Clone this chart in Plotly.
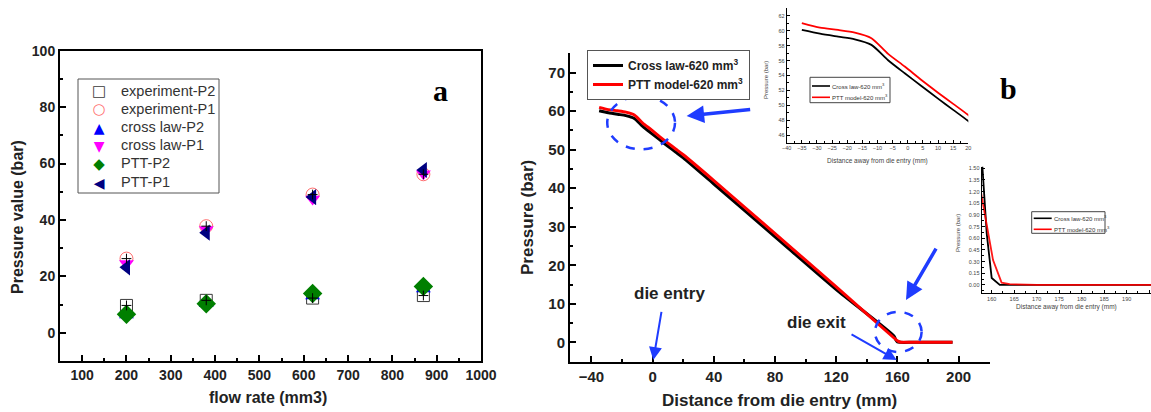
import plotly.graph_objects as go

W, H = 1151, 412

# ---------------- Panel (a): pressure vs flow rate ----------------
flow_rate = [200, 380, 620, 870]
exp_p2 = [9.7, 11.5, 12.3, 13.2]
exp_p1 = [26.3, 37.8, 49.0, 56.2]
cross_p2 = [6.3, 10.3, 13.0, 15.5]
cross_p1 = [24.6, 36.6, 47.4, 56.4]
ptt_p2 = [6.6, 10.3, 13.9, 16.4]
ptt_p1 = [23.2, 35.5, 48.1, 57.7]

# ---------------- Panel (b): pressure along the die, 620 mm3 ----------------
dist_cross = [-35, -29, -23, -17.5, -12, -6.5, -1, 4.5, 10, 15, 20, 40, 80, 120,
              157.9, 158.9, 160.0, 161.8, 170, 180, 196]
p_cross = [60.1, 59.6, 59.2, 58.85, 58.1, 56.05, 54.3, 52.6, 50.9, 49.4, 47.9, 41.1,
           27.4, 13.7, 1.55, 0.66, 0.09, 0.0, 0.0, 0.0, 0.0]
dist_ptt = [-35, -29, -23, -17.5, -12, -6.5, -1, 4.5, 10, 15, 20, 40, 80, 120,
            157.8, 160.3, 162.2, 164, 170, 180, 196]
p_ptt = [61.0, 60.4, 60.1, 59.75, 59.0, 56.9, 55.2, 53.4, 51.7, 50.2, 48.7, 42.0,
         28.2, 14.4, 1.13, 0.32, 0.03, 0.01, 0.0, 0.0, 0.0]

cross_name = "Cross law-620 mm<sup>3</sup>"
ptt_name = "PTT model-620 mm<sup>3</sup>"

FONT = "Arial, Liberation Sans, sans-serif"
BLUE_ANN = "#1f3cff"


def px(x):
    return x / W


def py(y):
    return 1 - y / H


fig = go.Figure()

# Panel (a) scatter series: (name, values, marker, legend glyph, glyph size)
series_a = [
    ("experiment-P2", exp_p2, dict(symbol="square-open", size=12, color="#3a3a3a",
                                   line=dict(width=1, color="#3a3a3a")), "□", 15),
    ("experiment-P1", exp_p1, dict(symbol="circle-open", size=13, color="#ff6f6f",
                                   line=dict(width=1, color="#ff6f6f")), "○", 15),
    ("cross law-P2", cross_p2, dict(symbol="triangle-up", size=13, color="#0000ff"), "▲", 14),
    ("cross law-P1", cross_p1, dict(symbol="triangle-down", size=13, color="#ff00ff"), "▼", 14),
    ("PTT-P2", ptt_p2, dict(symbol="diamond", size=15, color="#007f00"), "◆", 15),
    ("PTT-P1", ptt_p1, dict(symbol="triangle-left", size=14, color="#000080"), "◀", 14),
]
for name, vals, marker, _, _ in series_a:
    fig.add_trace(go.Scatter(x=flow_rate, y=vals, mode="markers", name=name, showlegend=False,
                             marker=marker, xaxis="x", yaxis="y"))

# small measurement crosses at the experimental points
for vals in (exp_p2, exp_p1):
    fig.add_trace(go.Scatter(x=flow_rate, y=vals, mode="markers", showlegend=False,
                             marker=dict(symbol="cross-thin", size=7, line=dict(width=1, color="black")),
                             xaxis="x", yaxis="y", hoverinfo="skip"))

SMOOTH = 0.7

# Panel (b) main curves
fig.add_trace(go.Scatter(x=dist_cross, y=p_cross, mode="lines", name=cross_name,
                         line=dict(color="black", width=3, shape="spline", smoothing=SMOOTH),
                         xaxis="x2", yaxis="y2", legend="legend2"))
fig.add_trace(go.Scatter(x=dist_ptt, y=p_ptt, mode="lines", name=ptt_name,
                         line=dict(color="#ff0000", width=3, shape="spline", smoothing=SMOOTH),
                         xaxis="x2", yaxis="y2", legend="legend2"))

# Inset 1: die entry region
fig.add_trace(go.Scatter(x=dist_cross, y=p_cross, mode="lines", showlegend=False,
                         line=dict(color="black", width=1.8, shape="spline", smoothing=SMOOTH),
                         xaxis="x3", yaxis="y3"))
fig.add_trace(go.Scatter(x=dist_ptt, y=p_ptt, mode="lines", showlegend=False,
                         line=dict(color="#ff0000", width=1.8, shape="spline", smoothing=SMOOTH),
                         xaxis="x3", yaxis="y3"))

# Inset 2: die exit region
fig.add_trace(go.Scatter(x=dist_cross, y=p_cross, mode="lines", showlegend=False,
                         line=dict(color="black", width=1.8), xaxis="x4", yaxis="y4"))
fig.add_trace(go.Scatter(x=dist_ptt, y=p_ptt, mode="lines", showlegend=False,
                         line=dict(color="#ff0000", width=1.8), xaxis="x4", yaxis="y4", opacity=0.9))


def axis_style(size, bold=True, lw=2, tl=6, mirror=False, minor_dtick=None, color="#222"):
    d = dict(showgrid=False, zeroline=False, showline=True, linecolor="black", linewidth=lw,
             ticks="inside", ticklen=tl, tickwidth=lw, tickcolor="black", mirror=mirror,
             automargin=False,
             tickfont=dict(family=FONT, size=size, color=color,
                           weight="bold" if bold else "normal"))
    if minor_dtick is not None:
        d["minor"] = dict(ticks="inside", ticklen=max(2, tl // 2), tickwidth=lw,
                          tickcolor="black", dtick=minor_dtick, showgrid=False)
    return d


layout = dict(
    width=W, height=H, margin=dict(l=0, r=0, t=0, b=0, autoexpand=False),
    paper_bgcolor="white", plot_bgcolor="white",
    xaxis=dict(domain=[px(60), px(481)], range=[50, 1000], dtick=100, anchor="y",
               **axis_style(14, mirror=True, minor_dtick=50)),
    yaxis=dict(domain=[py(361), py(50.7)], range=[-10, 100], dtick=20, anchor="x",
               **axis_style(14, mirror=True, minor_dtick=10)),
    xaxis2=dict(domain=[px(570), px(990)], range=[-54.05, 220.5], tick0=-40, dtick=40, anchor="y2",
                **axis_style(15, minor_dtick=20)),
    yaxis2=dict(domain=[py(362), py(53)], range=[-5.1, 75.1], dtick=10, anchor="x2",
                **axis_style(15, minor_dtick=5)),
    xaxis3=dict(domain=[px(786.7), px(968.3)], range=[-40, 20], dtick=5, anchor="y3",
                **axis_style(5.5, bold=False, lw=1.2, tl=3, minor_dtick=2.5, color="#444")),
    yaxis3=dict(domain=[py(142.7), py(8.3)], range=[45, 63], dtick=2, anchor="x3",
                **axis_style(5.5, bold=False, lw=1.2, tl=3, minor_dtick=1, color="#444")),
    xaxis4=dict(domain=[px(981.7), 1.0], range=[157.78, 195.4], tick0=160, dtick=5, anchor="y4",
                **axis_style(5.5, bold=False, lw=1.2, tl=3, minor_dtick=2.5, color="#444")),
    yaxis4=dict(domain=[py(293.3), py(166.7)], range=[-0.107, 1.52], dtick=0.15, tickformat=".2f",
                anchor="x4", **axis_style(5.5, bold=False, lw=1.2, tl=3, minor_dtick=0.075, color="#444")),
    legend2=dict(x=px(587), y=py(50), xanchor="left", yanchor="top", bgcolor="white",
                 bordercolor="#555", borderwidth=1,
                 font=dict(family=FONT, size=12, color="#222", weight="bold")),
    showlegend=True,
)
fig.update_layout(**layout)

annotations = []
shapes = []


def text_ann(text, x, y, size, angle=0, bold=False, color="#222", family=FONT, xanchor="center"):
    return dict(text=text, x=px(x), y=py(y), xref="paper", yref="paper", textangle=angle,
                xanchor=xanchor, yanchor="middle", showarrow=False, borderpad=0,
                font=dict(family=family, size=size, color=color, weight="bold" if bold else "normal"))


# Axis titles
annotations += [
    text_ann("Pressure value (bar)", 17, 217, 16, angle=-90, bold=True),
    text_ann("flow rate (mm3)", 268, 397, 16, bold=True),
    text_ann("Pressure (bar)", 527, 218, 17, angle=-90, bold=True),
    text_ann("Distance from die entry (mm)", 779, 400, 17, bold=True),
    text_ann("Pressure (bar)", 766, 80, 6, angle=-90, color="#444"),
    text_ann("Distance away from die entry (mm)", 877, 161, 6.5, color="#444"),
    text_ann("Pressure (bar)", 958, 233, 6, angle=-90, color="#444"),
    text_ann("Distance away from die entry (mm)", 1066, 307, 6.5, color="#444"),
    text_ann("<b>a</b>", 440, 90, 30, color="black", family="Liberation Serif, Times New Roman, serif"),
    text_ann("<b>b</b>", 1008, 88, 30, color="black", family="Liberation Serif, Times New Roman, serif"),
]

# die labels in data coordinates of panel (b)
annotations += [
    dict(text="die entry", x=10.8, y=12.7, xref="x2", yref="y2", showarrow=False,
         xanchor="center", yanchor="middle",
         font=dict(family=FONT, size=17, color="#222", weight="bold")),
    dict(text="die exit", x=107.2, y=5.1, xref="x2", yref="y2", showarrow=False,
         xanchor="center", yanchor="middle",
         font=dict(family=FONT, size=17, color="#222", weight="bold")),
]

# Arrows in panel (b)
arrows = [
    (64.7, 60.5, 22.2, 58.75, 3.5),
    (5.9, 8.3, 0.4, -4.6, 2),
    (129.0, 2.3, 159.5, -4.6, 2),
    (185.8, 24.7, 165.6, 11.0, 3.5),
]
for ax_, ay_, hx, hy, w in arrows:
    annotations.append(dict(x=hx, y=hy, ax=ax_, ay=ay_, xref="x2", yref="y2", axref="x2", ayref="y2",
                            text="", showarrow=True, arrowhead=2, arrowsize=1.0 if w > 3 else 1.3,
                            arrowwidth=w, arrowcolor=BLUE_ANN))

# Dashed ellipses marking the zoomed regions
shapes += [
    dict(type="circle", xref="x2", yref="y2", x0=-29.7, x1=14.6, y0=50.1, y1=63.9,
         line=dict(color=BLUE_ANN, width=2.5, dash="dash")),
    dict(type="circle", xref="x2", yref="y2", x0=145.3, x1=175.8, y0=-2.5, y1=7.9,
         line=dict(color=BLUE_ANN, width=2.5, dash="dash")),
]

# Legend of panel (a): one column of symbol glyphs, one column of names
shapes.append(dict(type="rect", xref="paper", yref="paper", x0=px(78), x1=px(219),
                   y0=py(193), y1=py(79), line=dict(color="#555", width=1), fillcolor="white",
                   layer="below"))
row_y = [90.7, 109, 126.7, 145, 163.3, 181.7]
glyph_lines = [
    '<span style="color:%s;font-size:%dpx">%s</span>' % (m["color"], gs, g)
    for _, _, m, g, gs in series_a
]
annotations.append(dict(text="<br>".join(glyph_lines), x=px(99.3), y=py(sum(row_y) / len(row_y)),
                        xref="paper", yref="paper", xanchor="center", yanchor="middle",
                        showarrow=False, borderpad=0, align="center",
                        font=dict(family="DejaVu Sans", size=14.1, color="#333")))
for (name, _, _, _, _), yy in zip(series_a, row_y):
    annotations.append(text_ann(name, 120, yy, 14.5, color="#333", xanchor="left"))


# Inset legends
def inset_legend(x0, y0, x1, y1, y_black, y_red):
    shapes.append(dict(type="rect", xref="paper", yref="paper", x0=px(x0), x1=px(x1),
                       y0=py(y1), y1=py(y0), line=dict(color="#444", width=1), fillcolor="white"))
    for yy, col in ((y_black, "black"), (y_red, "#ff0000")):
        shapes.append(dict(type="line", xref="paper", yref="paper", x0=px(x0 + 2), x1=px(x0 + 20),
                           y0=py(yy), y1=py(yy), line=dict(color=col, width=1.6)))
    for yy, name in ((y_black, cross_name), (y_red, ptt_name)):
        annotations.append(text_ann(name, x0 + 21, yy, 6, color="#333", xanchor="left"))


inset_legend(810, 77.3, 890, 102.7, 86, 97.3)
inset_legend(1031.7, 211.7, 1105, 233.3, 218.3, 229.3)

fig.update_layout(annotations=annotations, shapes=shapes)

fig.write_html("out.html")
